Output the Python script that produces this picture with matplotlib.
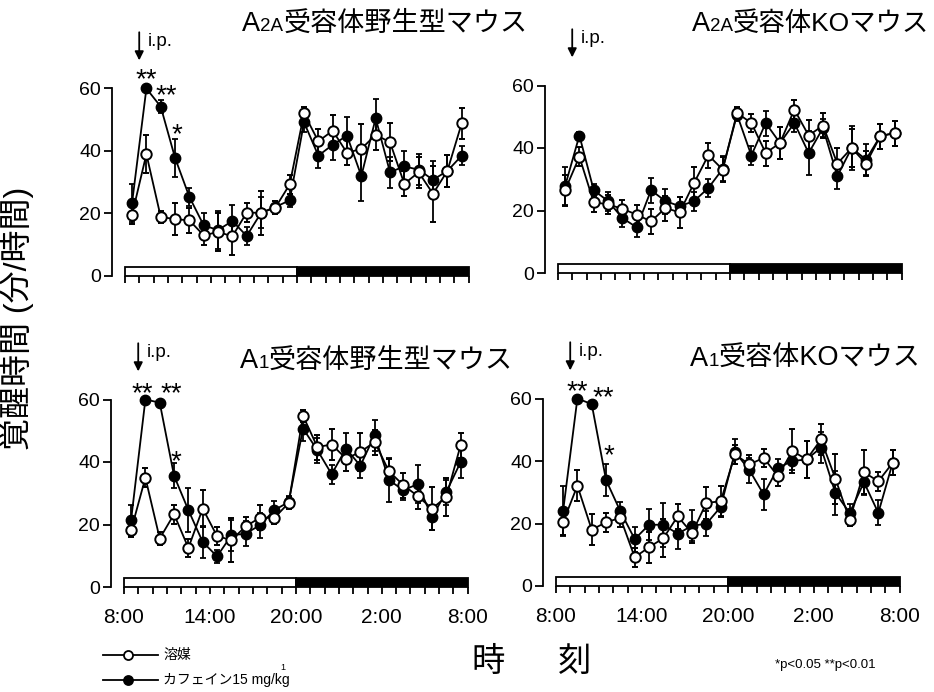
import numpy as np
import matplotlib
matplotlib.use("Agg")
import matplotlib.pyplot as plt
from matplotlib.lines import Line2D
from matplotlib.patches import Rectangle

plt.rcParams['font.family'] = ['Liberation Sans', 'Noto Sans CJK JP', 'DejaVu Sans']

W, H = 934, 692

# ---------------- data ----------------
hours = [h + 0.5 for h in range(24)]          # hourly bins starting at 8:00
tick_pos = list(range(25))
label_pos = [0, 6, 12, 18, 24]
tick_labels = ["8:00", "14:00", "20:00", "2:00", "8:00"]

# A2A wild type
a2a_wt_veh = [19.6, 39.0, 18.9, 18.2, 17.8, 13.0, 14.1, 12.7, 20.3, 20.2, 21.9, 29.3,
              52.0, 43.1, 46.5, 39.4, 40.7, 45.2, 42.8, 29.5, 33.2, 26.3, 33.6, 48.8]
a2a_wt_veh_err = [3, 6, 2, 5, 4, 3, 6, 6, 3, 7, 2, 3, 2, 4, 5, 4, 8, 5, 6, 4, 5, 9, 5, 5]
a2a_wt_caf = [23.4, 60.0, 54.2, 37.8, 25.3, 16.2, 14.7, 17.6, 12.8, 20.2, 22.1, 24.2,
              49.2, 38.5, 42.0, 44.9, 32.0, 50.5, 33.2, 35.1, 34.0, 30.8, 33.6, 38.5]
a2a_wt_caf_err = [6, 0.5, 2, 6, 3, 4, 6, 5, 3, 5, 2, 2, 3, 4, 5, 6, 8, 6, 5, 5, 5, 6, 5, 3]

# A2A KO
a2a_ko_veh = [26.5, 37.2, 22.6, 22.0, 20.5, 18.7, 16.5, 20.8, 19.4, 28.8, 37.7, 33.1,
              51.2, 48.0, 38.4, 41.6, 52.3, 44.0, 47.2, 35.0, 40.0, 35.0, 43.8, 44.8]
a2a_ko_veh_err = [5, 3, 3, 3, 3, 3, 4, 4, 5, 5, 4, 4, 2, 3, 4, 5, 3, 5, 4, 5, 6, 4, 4, 4]
a2a_ko_caf = [27.8, 44.0, 26.5, 23.0, 17.6, 14.6, 26.5, 23.0, 21.4, 23.0, 27.2, 33.3,
              50.7, 37.6, 48.0, 41.6, 48.0, 38.4, 46.4, 31.0, 40.0, 36.3, 43.8, 44.8]
a2a_ko_caf_err = [6, 1, 2, 3, 3, 3, 4, 4, 3, 3, 3, 4, 2, 3, 4, 5, 3, 7, 3, 4, 7, 5, 4, 4]

# A1 wild type
a1_wt_veh = [18.1, 35.0, 15.5, 23.3, 12.5, 25.1, 16.3, 15.0, 19.4, 22.2, 22.1, 26.9,
             54.8, 44.8, 45.6, 41.1, 43.2, 46.4, 37.0, 32.6, 29.1, 25.1, 28.8, 45.4]
a1_wt_veh_err = [2, 3, 2, 3, 3, 6, 3, 7, 3, 4, 2, 2, 2, 4, 5, 4, 6, 4, 4, 4, 4, 7, 6, 4]
a1_wt_caf = [21.4, 60.0, 59.0, 35.6, 24.6, 14.4, 9.8, 16.5, 17.1, 19.8, 24.6, 27.2,
             50.7, 43.8, 36.1, 44.3, 38.8, 48.6, 34.2, 31.0, 32.9, 22.4, 30.4, 40.0]
a1_wt_caf_err = [5, 0.5, 0.5, 4, 7, 5, 2, 5, 4, 4, 3, 2, 4, 4, 3, 5, 4, 5, 7, 3, 6, 4, 4, 5]

# A1 KO
a1_ko_veh = [20.4, 32.1, 18.0, 20.4, 21.8, 9.2, 12.4, 15.3, 22.3, 16.9, 26.6, 27.1,
             42.1, 38.9, 41.0, 35.1, 43.2, 40.5, 46.9, 34.4, 21.2, 36.4, 33.5, 39.4]
a1_ko_veh_err = [4, 5, 5, 3, 3, 3, 5, 6, 4, 3, 5, 5, 3, 3, 3, 3, 7, 6, 5, 8, 2, 7, 3, 4]
a1_ko_caf = [23.9, 60.0, 58.2, 33.9, 23.9, 15.0, 19.6, 19.6, 16.7, 19.3, 19.9, 25.3,
             42.9, 37.1, 29.3, 37.8, 40.0, 40.5, 44.3, 29.8, 23.4, 33.2, 23.4, 39.4]
a1_ko_caf_err = [8, 0.5, 0.5, 5, 3, 4, 5, 7, 5, 5, 4, 3, 4, 4, 5, 3, 3, 6, 5, 7, 3, 4, 4, 4]

# significance marks: (x, y, text)
stars_a2a_wt = [(1.47, 65.4, "**"), (2.9, 60.3, "**"), (3.6, 47.9, "*")]
stars_a1_wt = [(1.3, 64.5, "**"), (3.3, 64.5, "**"), (3.6, 42.7, "*")]
stars_a1_ko = [(1.46, 65.0, "**"), (3.3, 62.9, "**"), (3.7, 44.3, "*")]

fig = plt.figure(figsize=(W / 100, H / 100), dpi=100)


def make_axes(left_px, y0_px, show_labels, veh, veh_err, caf, caf_err, stars):
    ppu = 3.125  # pixels per y unit
    width = 14.33 * 25.1
    height = ppu * 61
    ax = fig.add_axes([left_px / W, (H - y0_px) / H, width / W, height / H])
    ax.set_xlim(-0.9, 24.2)
    ax.set_ylim(0, 61)
    for s in ["top", "right", "bottom"]:
        ax.spines[s].set_visible(False)
    ax.spines["left"].set_bounds(0, 60)
    ax.spines["left"].set_linewidth(1.3)
    ax.set_yticks([0, 20, 40, 60])
    ax.tick_params(axis="y", length=6, width=1.3, pad=2, labelsize=14)
    ax.set_xticks(tick_pos)
    ax.tick_params(axis="x", length=5, width=1.3, pad=10, labelsize=15, direction="out")
    if show_labels:
        ax.set_xticklabels([tick_labels[label_pos.index(p)] if p in label_pos else ""
                            for p in tick_pos])
    else:
        ax.set_xticklabels([])
    # light / dark bar
    ax.add_patch(Rectangle((0, 0), 12, 3, facecolor="white", edgecolor="black",
                           lw=1.3, clip_on=False, zorder=3))
    ax.add_patch(Rectangle((12, 0), 12, 3, facecolor="black", edgecolor="black",
                           lw=1.3, clip_on=False, zorder=3))
    ax.errorbar(hours, caf, yerr=caf_err, fmt="-o", color="black", mfc="black",
                mec="black", ms=7.5, lw=1.3, elinewidth=1.3, capsize=2.5,
                capthick=1.3, clip_on=False, zorder=4)
    ax.errorbar(hours, veh, yerr=veh_err, fmt="-o", color="black", mfc="white",
                mec="black", mew=1.4, ms=7.5, lw=1.3, elinewidth=1.3, capsize=2.5,
                capthick=1.3, clip_on=False, zorder=5)
    # injection arrow
    ax.annotate("", xy=(1, 69), xytext=(1, 78),
                arrowprops=dict(arrowstyle="-|>", color="black", lw=1.3,
                                mutation_scale=13, shrinkA=0, shrinkB=0),
                annotation_clip=False)
    ax.text(1.6, 75.0, "i.p.", fontsize=13.5, ha="left", va="center", clip_on=False)
    for sx, sy, st in stars:
        ax.annotate(st, (sx, sy), xytext=(0, -11.5), textcoords="offset points",
                    fontsize=20, ha="center", va="baseline", annotation_clip=False)
    return ax


make_axes(112, 276, False, a2a_wt_veh, a2a_wt_veh_err, a2a_wt_caf, a2a_wt_caf_err,
          stars_a2a_wt)
make_axes(545, 273, False, a2a_ko_veh, a2a_ko_veh_err, a2a_ko_caf, a2a_ko_caf_err, [])
make_axes(111, 587, True, a1_wt_veh, a1_wt_veh_err, a1_wt_caf, a1_wt_caf_err,
          stars_a1_wt)
make_axes(543, 586, True, a1_ko_veh, a1_ko_veh_err, a1_ko_caf, a1_ko_caf_err,
          stars_a1_ko)

renderer = fig.canvas.get_renderer()


def rich(x_px, y_px, pieces):
    x = x_px
    for txt, size in pieces:
        t = fig.text(x / W, (H - y_px) / H, txt, fontsize=size, ha="left",
                     va="baseline")
        x += t.get_window_extent(renderer=renderer).width


TS, SS = 19.5, 13.5
rich(242, 31, [("A", TS), ("2A", SS), ("受容体野生型マウス", TS)])
rich(692, 31, [("A", TS), ("2A", SS), ("受容体KOマウス", 19)])
rich(240, 368, [("A", TS), ("1", SS), ("受容体野生型マウス", TS)])
rich(690, 366, [("A", TS), ("1", SS), ("受容体KOマウス", TS)])

# y label
fig.text(17 / W, (H - 318) / H, "覚醒時間 (分/時間)", rotation=90, fontsize=23,
         ha="center", va="center")
# x label
fig.text(488 / W, (H - 662) / H, "時", fontsize=24, ha="center", va="center")
fig.text(575 / W, (H - 662) / H, "刻", fontsize=24, ha="center", va="center")

# legend
for yy, fc, lab in [(655, "white", "溶媒"), (680, "black", "カフェイン15 mg/kg")]:
    fig.add_artist(Line2D([103 / W, 158 / W], [(H - yy) / H] * 2, color="black",
                          lw=1.3, transform=fig.transFigure))
    fig.add_artist(Line2D([128 / W], [(H - yy) / H], marker="o", ms=6.5, mfc=fc,
                          mec="black", mew=1.3, color="black",
                          transform=fig.transFigure))
    t = fig.text(163 / W, (H - yy) / H, lab, fontsize=10, ha="left", va="center")
bb = t.get_window_extent(renderer=renderer)
fig.text((bb.x1 - 9) / W, (bb.y1 + 1) / H, "1", fontsize=6.5, ha="left",
         va="bottom")

fig.text(775 / W, (H - 665) / H, "*p<0.05 **p<0.01", fontsize=9.5, ha="left",
         va="center")

fig.savefig("out.png", dpi=100)
